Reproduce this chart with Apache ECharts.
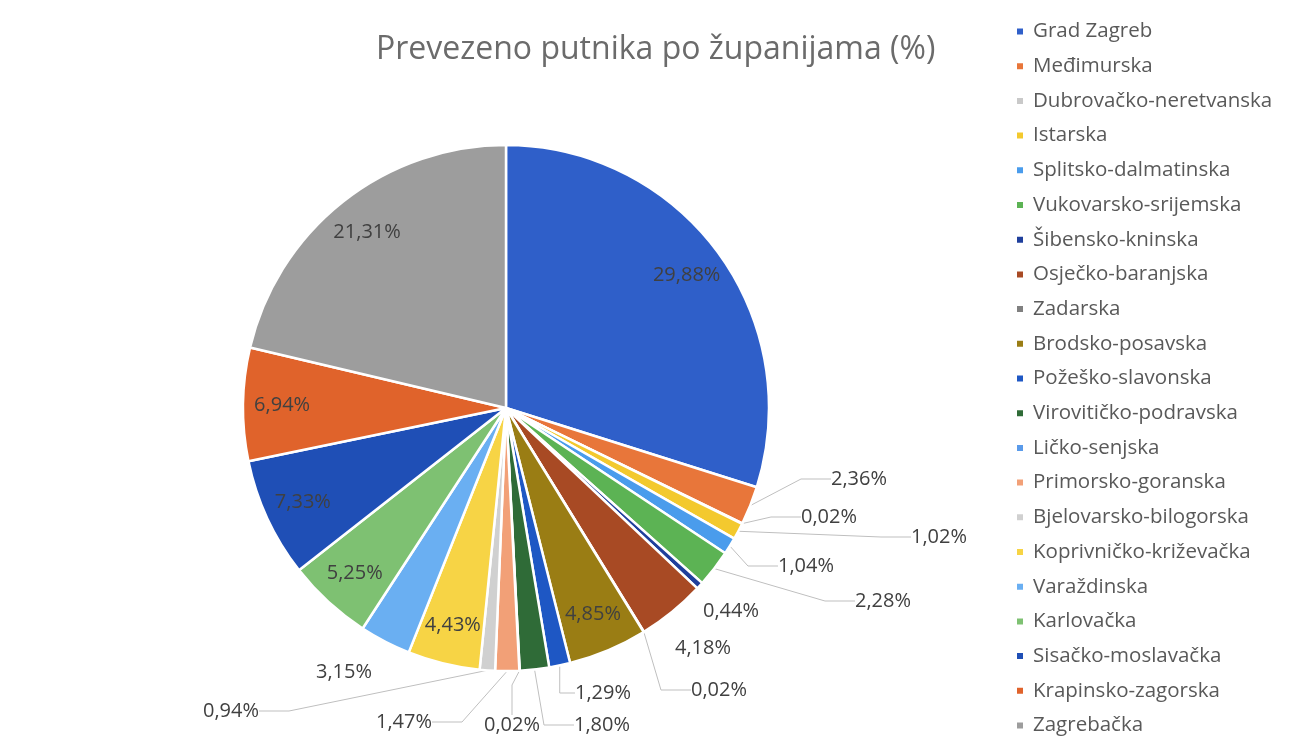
<!DOCTYPE html>
<html>
<head>
<meta charset="utf-8">
<script src="https://cdn.jsdelivr.net/npm/echarts@6/dist/echarts.min.js"></script>
<style>
  html, body { margin: 0; padding: 0; background: #fff; }
  #chart { width: 1291px; height: 742px; }
</style>
</head>
<body>
<div id="chart"></div>
<script>
const counties = [
  'Grad Zagreb', 'Međimurska', 'Dubrovačko-neretvanska', 'Istarska',
  'Splitsko-dalmatinska', 'Vukovarsko-srijemska', 'Šibensko-kninska',
  'Osječko-baranjska', 'Zadarska', 'Brodsko-posavska', 'Požeško-slavonska',
  'Virovitičko-podravska', 'Ličko-senjska', 'Primorsko-goranska',
  'Bjelovarsko-bilogorska', 'Koprivničko-križevačka', 'Varaždinska',
  'Karlovačka', 'Sisačko-moslavačka', 'Krapinsko-zagorska', 'Zagrebačka'
]
const shares = [
  29.88, 2.36, 0.02, 1.02, 1.04, 2.28, 0.44, 4.18, 0.02, 4.85, 1.29,
  1.80, 0.02, 1.47, 0.94, 4.43, 3.15, 5.25, 7.33, 6.94, 21.31
]
const colors = [
  '#2f5fc9', '#e8763a', '#c9c9c9', '#f3c92e', '#4a9cec', '#5cb354',
  '#1f3f9c', '#a84a24', '#808080', '#9a7d14', '#1e57c4', '#2f6b37',
  '#5a9bea', '#f2a077', '#d0d0d0', '#f7d445', '#6aaff2', '#7ec172',
  '#1f4fb6', '#e0632b', '#9d9d9d'
]
// slices labelled inside the pie
const insideIdx = [0, 9, 15, 17, 18, 19, 20]
// outside labels drawn without a leader line
const noLineIdx = [6, 7, 16]
// where the outside labels sit (label centre, px)
const labelSpots = {
  1: [859, 479], 2: [829, 517], 3: [939, 537], 4: [806, 566], 5: [883, 601],
  6: [731, 611], 7: [703, 648], 8: [719, 690], 10: [603, 693], 11: [602, 725],
  12: [512, 725], 13: [404, 722], 14: [231, 711], 16: [344, 672]
}

const fmt = p => p.value.toFixed(2).replace('.', ',') + '%'
const FONT = '"Open Sans", sans-serif'
const R = 263

const chart = echarts.init(document.getElementById('chart'))
chart.setOption({
  animation: false,
  title: {
    text: 'Prevezeno putnika po županijama (%)',
    left: 371,
    top: 29,
    textStyle: { fontFamily: FONT, fontSize: 32, fontWeight: 'normal', color: '#6b6b6b' }
  },
  legend: {
    orient: 'vertical',
    left: 1015,
    top: 21,
    padding: 0,
    icon: 'rect',
    itemWidth: 8,
    itemHeight: 8,
    itemGap: 13.7,
    data: counties,
    textStyle: { fontFamily: FONT, fontSize: 20.5, lineHeight: 20, color: '#595959', padding: [0, 0, 0, 4] }
  },
  series: [
    {
      type: 'pie',
      center: [506, 408],
      radius: R,
      startAngle: 90,
      clockwise: true,
      avoidLabelOverlap: false,
      itemStyle: { borderColor: '#fff', borderWidth: 2.5 },
      label: {
        position: 'outside',
        formatter: fmt,
        fontFamily: FONT,
        fontSize: 20,
        color: '#404040'
      },
      labelLine: {
        lineStyle: { color: '#bfbfbf', width: 1 }
      },
      labelLayout: p => {
        const s = labelSpots[p.dataIndex]
        if (!s) return {}
        return { x: s[0], y: s[1], align: 'center', verticalAlign: 'middle' }
      },
      data: counties.map((name, i) => ({
        name,
        value: shares[i],
        itemStyle: { color: colors[i] },
        label: { show: !insideIdx.includes(i) },
        labelLine: { show: !insideIdx.includes(i) && !noLineIdx.includes(i) }
      }))
    },
    {
      // transparent ring so the inside labels sit near the rim
      type: 'pie',
      silent: true,
      center: [506, 408],
      radius: [R * 0.68, R],
      startAngle: 90,
      clockwise: true,
      itemStyle: { color: 'rgba(0,0,0,0)', borderWidth: 0 },
      label: {
        position: 'inside',
        formatter: fmt,
        fontFamily: FONT,
        fontSize: 20,
        color: '#404040'
      },
      labelLine: { show: false },
      data: counties.map((name, i) => ({
        name,
        value: shares[i],
        label: { show: insideIdx.includes(i) }
      }))
    }
  ]
})
</script>
</body>
</html>
